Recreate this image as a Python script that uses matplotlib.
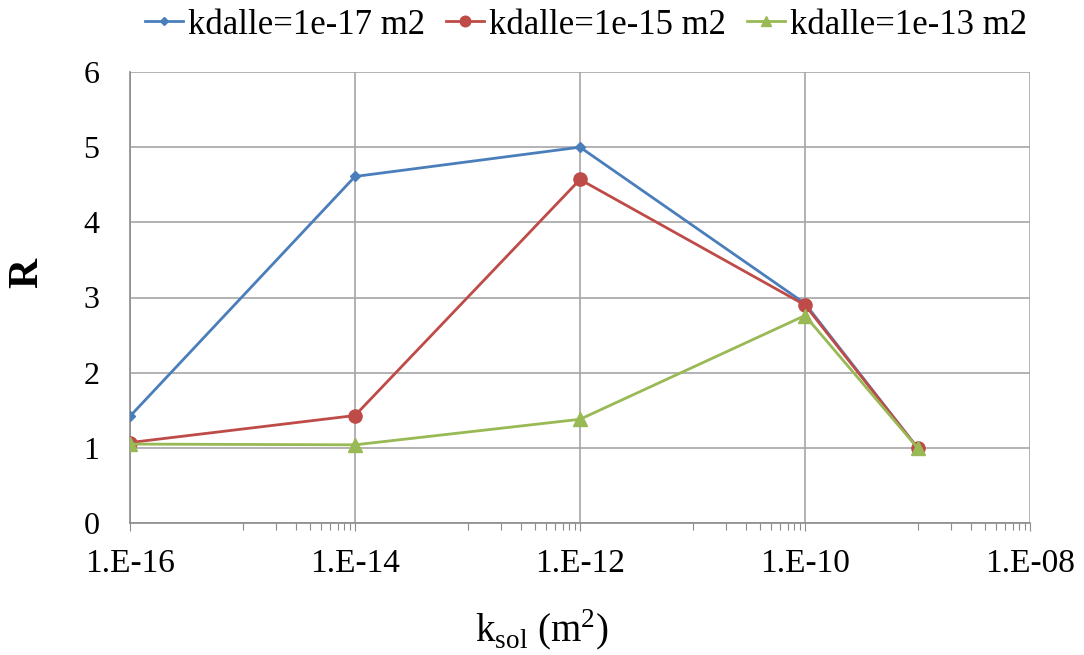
import matplotlib
matplotlib.use("Agg")
import matplotlib.pyplot as plt
import numpy as np
from matplotlib.ticker import FixedLocator, NullFormatter

k_sol = [1e-16, 1e-14, 1e-12, 1e-10, 1e-9]
r_1e17 = [1.42, 4.61, 5.00, 2.92, 1.00]
r_1e15 = [1.07, 1.43, 4.57, 2.90, 1.00]
r_1e13 = [1.05, 1.04, 1.38, 2.76, 1.00]
labels = ["kdalle=1e-17 m2", "kdalle=1e-15 m2", "kdalle=1e-13 m2"]
xtick_vals = [1e-16, 1e-14, 1e-12, 1e-10, 1e-8]
xtick_labels = ["1.E-16", "1.E-14", "1.E-12", "1.E-10", "1.E-08"]

plt.rcParams['font.family'] = ['Liberation Serif', 'DejaVu Serif']
plt.rcParams['mathtext.fontset'] = 'custom'
plt.rcParams['mathtext.rm'] = 'Liberation Serif'

fig = plt.figure(figsize=(10.84, 6.55), dpi=100)
ax = fig.add_axes([130/1084, 1-523/655, 900/1084, 451/655])

blue, red, green = "#4A7EBB", "#BE4B48", "#98B954"
l1, = ax.plot(k_sol, r_1e17, color=blue, marker="D", markersize=5, lw=2, label=labels[0], zorder=3)
l2, = ax.plot(k_sol, r_1e15, color=red, marker="o", markersize=9.5, lw=2, label=labels[1], zorder=4)
l3, = ax.plot(k_sol, r_1e13, color=green, marker="^", markersize=9.5, lw=2, label=labels[2], zorder=5)

ax.set_xscale("log")
ax.set_xlim(1e-16, 1e-8)
ax.set_ylim(0, 6)
ax.set_yticks(range(0, 7))
ax.xaxis.set_major_locator(FixedLocator(xtick_vals))
ax.set_xticklabels(xtick_labels)
minor = [k * 10.0**e for e in (-15, -13, -11, -9) for k in range(1, 10)]
ax.xaxis.set_minor_locator(FixedLocator(minor))
ax.xaxis.set_minor_formatter(NullFormatter())

ax.grid(True, which="major", color="#A6A6A6", lw=1.2)
ax.set_axisbelow(True)
for s in ["top", "right"]:
    ax.spines[s].set_visible(False)
for s in ["left", "bottom"]:
    ax.spines[s].set_color("#8C8C8C")
    ax.spines[s].set_linewidth(1.2)

ax.tick_params(axis="x", which="major", length=6, color="#8C8C8C", labelsize=24, pad=12)
ax.tick_params(axis="x", which="minor", length=5, color="#8C8C8C", width=0.8)
ax.tick_params(axis="y", which="major", length=0, labelsize=23, pad=22)

fig.text(27/1084, 1-273/655, "R", fontsize=30, fontweight="bold", rotation=90,
         ha="center", va="center")
fig.text(542/1084, 1-630/655, r"k$_{\mathregular{sol}}$ (m$^{\mathregular{2}}$)", fontsize=28,
         ha="center", va="center")

fig.legend(handles=[l1, l2, l3], labels=labels, loc="center", bbox_to_anchor=(586/1084, 1-25/655),
           ncol=3, frameon=False, fontsize=25, handlelength=1.1, handletextpad=0.15,
           columnspacing=0.6, markerscale=0.8, borderpad=0, borderaxespad=0)

fig.savefig("out.png", dpi=100)
